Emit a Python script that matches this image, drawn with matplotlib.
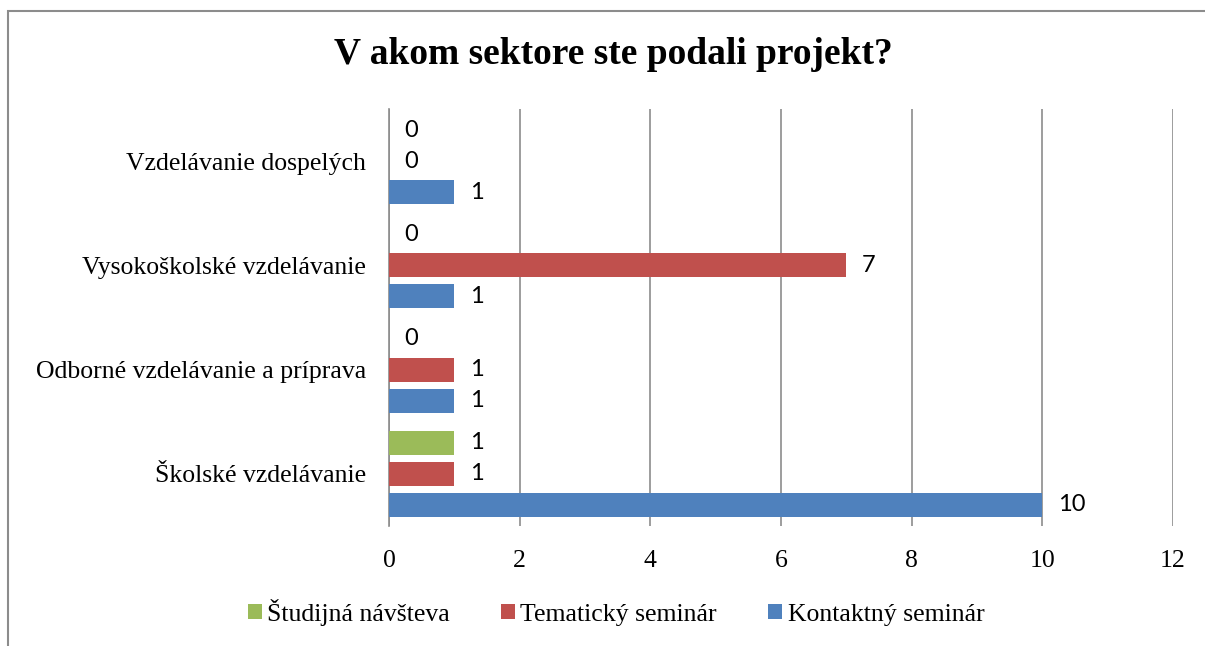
import numpy as np
import matplotlib.pyplot as plt
from matplotlib.patches import Rectangle

categories = ["Školské vzdelávanie", "Odborné vzdelávanie a príprava",
              "Vysokoškolské vzdelávanie", "Vzdelávanie dospelých"]
kontaktny = [10, 1, 1, 1]
tematicky = [1, 1, 7, 0]
studijna = [1, 0, 0, 0]

series = [("Kontaktný seminár", kontaktny, "#4F81BD", -0.297),
          ("Tematický seminár", tematicky, "#C0504D", 0.0),
          ("Študijná návšteva", studijna, "#9BBB59", 0.297)]

serif = "Liberation Serif"

fig = plt.figure(figsize=(12.05, 6.46), dpi=100)
ax = fig.add_axes([389/1205, 1 - 526/646, (1173-389)/1205, (526-109)/646])

y = np.arange(len(categories))
handles = {}
for name, vals, col, off in series:
    bars = ax.barh(y + off, vals, height=0.23, color=col, zorder=3, label=name)
    handles[name] = bars
    for yi, v in zip(y, vals):
        ax.annotate(str(v), (v, yi + off), xytext=(11, 0), textcoords="offset points",
                    ha="left", va="center", fontsize=17, family="Lato", color="black")

ax.set_xlim(0, 12)
ax.set_ylim(-0.5, 3.5)
ax.set_xticks(range(0, 13, 2))
ax.set_yticks(y)
ax.set_yticklabels(categories, family=serif, fontsize=18.5)
for lab in ax.get_xticklabels():
    lab.set_family(serif)
    lab.set_fontsize(18.5)
ax.tick_params(axis="x", length=0, pad=17)
ax.tick_params(axis="y", length=0, pad=16.5)
ax.grid(axis="x", color="#8c8c8c", linewidth=1.2, zorder=0)
for s in ["top", "right", "bottom"]:
    ax.spines[s].set_visible(False)
ax.spines["left"].set_color("#8c8c8c")
ax.spines["left"].set_linewidth(1.2)

fig.text(613/1205, 1 - 55/646, "V akom sektore ste podali projekt?", ha="center", va="center",
         family=serif, fontsize=27, fontweight="bold")

order = ["Študijná návšteva", "Tematický seminár", "Kontaktný seminár"]
fig.legend([handles[n] for n in order], order, loc="center", bbox_to_anchor=(616/1205, 1 - 612/646),
           ncol=3, frameon=False, prop={"family": serif, "size": 18.5},
           handlelength=0.55, handleheight=0.55, handletextpad=0.2, columnspacing=2.0)

fig.patches.append(Rectangle((8/1205, -0.1), 1.2, 1 - 11/646 + 0.1, transform=fig.transFigure,
                             fill=False, edgecolor="#8c8c8c", linewidth=1.5))

fig.savefig("out.png", dpi=100)
